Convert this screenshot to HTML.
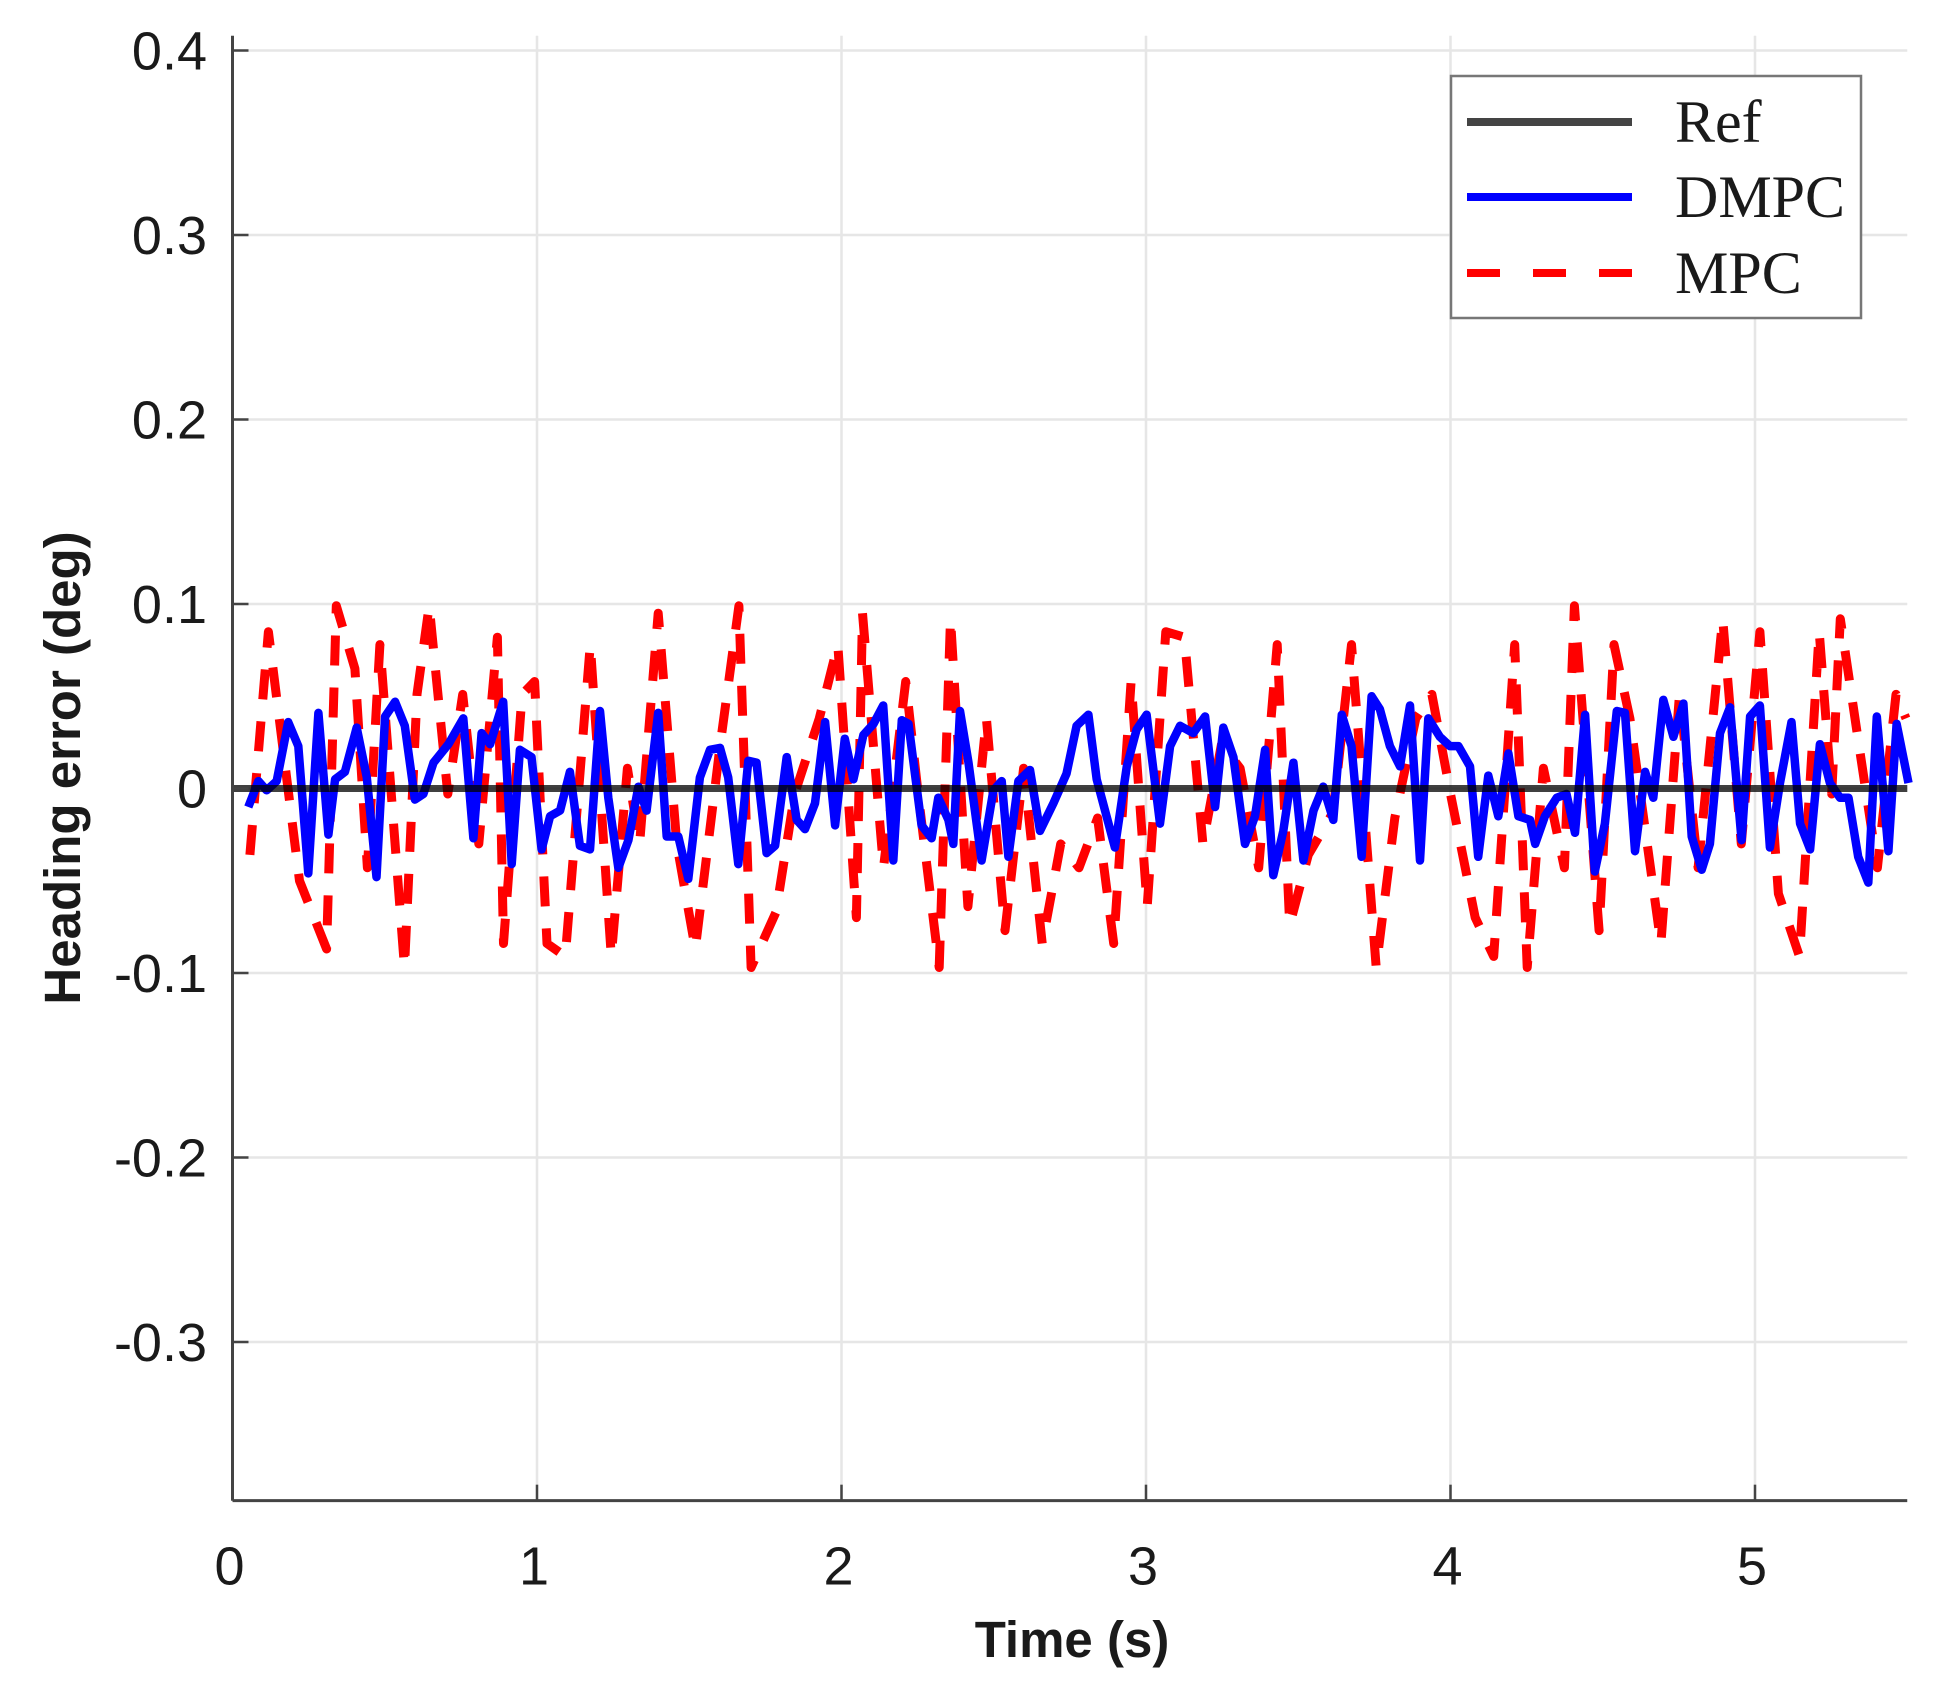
<!DOCTYPE html>
<html><head><meta charset="utf-8">
<style>
html,body{margin:0;padding:0;background:#fff;}
svg{display:block;}
text{font-family:"Liberation Sans",sans-serif;fill:#1a1a1a;}
</style></head>
<body>
<svg id="chart" width="1945" height="1694" viewBox="0 0 1945 1694" xmlns="http://www.w3.org/2000/svg">
<g id="grid"></g>
<g id="series"></g>
<g id="axes"></g>
<text x="1072" y="1657" text-anchor="middle" font-size="51" font-weight="bold">Time (s)</text>
<text transform="translate(80,768) rotate(-90)" text-anchor="middle" font-size="51" font-weight="bold">Heading error (deg)</text>
<g>
  <rect x="1451" y="76" width="410" height="242" fill="#fff" stroke="#777" stroke-width="2.5"/>
  <line x1="1467" y1="122" x2="1632" y2="122" stroke="#444" stroke-width="8"/>
  <text x="1675" y="142" font-size="60" style="font-family:'Liberation Serif',serif">Ref</text>
  <line x1="1467" y1="197" x2="1632" y2="197" stroke="#0000ff" stroke-width="8"/>
  <text x="1675" y="217" font-size="60" style="font-family:'Liberation Serif',serif">DMPC</text>
  <line x1="1467" y1="273" x2="1632" y2="273" stroke="#ff0000" stroke-width="8" stroke-dasharray="33 33"/>
  <text x="1675" y="293" font-size="60" style="font-family:'Liberation Serif',serif">MPC</text>
</g>
</svg>
<script>
const xTicks=[0,1,2,3,4,5];
const yTicks=[0.4,0.3,0.2,0.1,0,-0.1,-0.2,-0.3];
const yTickLabels=["0.4","0.3","0.2","0.1","0","-0.1","-0.2","-0.3"];
const dmpcT=[0.052,0.085,0.112,0.145,0.183,0.216,0.249,0.282,0.315,0.337,0.369,0.408,0.441,0.473,0.501,0.534,0.566,0.599,0.627,0.660,0.709,0.758,0.791,0.818,0.846,0.889,0.917,0.944,0.982,1.015,1.043,1.076,1.108,1.141,1.174,1.207,1.234,1.267,1.300,1.333,1.360,1.398,1.426,1.464,1.497,1.535,1.568,1.601,1.628,1.661,1.694,1.721,1.754,1.782,1.820,1.853,1.880,1.913,1.946,1.979,2.011,2.039,2.072,2.105,2.137,2.170,2.198,2.220,2.263,2.296,2.318,2.351,2.367,2.389,2.417,2.460,2.499,2.526,2.548,2.581,2.619,2.652,2.696,2.739,2.772,2.811,2.838,2.898,2.937,2.969,3.002,3.046,3.079,3.112,3.155,3.194,3.227,3.254,3.287,3.325,3.358,3.391,3.418,3.451,3.484,3.517,3.550,3.582,3.615,3.643,3.675,3.708,3.741,3.768,3.801,3.834,3.867,3.900,3.927,3.965,3.998,4.026,4.064,4.091,4.124,4.157,4.190,4.223,4.261,4.278,4.310,4.349,4.381,4.409,4.442,4.474,4.507,4.546,4.573,4.606,4.639,4.666,4.699,4.732,4.765,4.792,4.825,4.852,4.885,4.918,4.956,4.984,5.016,5.049,5.082,5.120,5.148,5.181,5.213,5.246,5.279,5.307,5.339,5.372,5.400,5.438,5.465,5.504];
const dmpcV=[-0.010,0.004,-0.001,0.004,0.036,0.023,-0.046,0.041,-0.025,0.005,0.009,0.033,0.006,-0.048,0.039,0.047,0.034,-0.006,-0.003,0.014,0.024,0.038,-0.027,0.030,0.024,0.047,-0.041,0.021,0.017,-0.033,-0.015,-0.012,0.009,-0.031,-0.033,0.042,-0.005,-0.043,-0.028,0.001,-0.012,0.041,-0.026,-0.026,-0.049,0.006,0.021,0.022,0.006,-0.041,0.015,0.014,-0.035,-0.031,0.017,-0.017,-0.022,-0.008,0.036,-0.020,0.027,0.005,0.029,0.035,0.045,-0.039,0.037,0.035,-0.020,-0.027,-0.005,-0.017,-0.030,0.042,0.014,-0.039,-0.001,0.004,-0.037,0.004,0.010,-0.023,-0.008,0.008,0.034,0.040,0.005,-0.032,0.012,0.032,0.040,-0.019,0.023,0.034,0.030,0.039,-0.010,0.033,0.017,-0.030,-0.015,0.021,-0.047,-0.023,0.014,-0.039,-0.012,0.001,-0.017,0.040,0.023,-0.037,0.050,0.043,0.023,0.012,0.045,-0.039,0.038,0.028,0.023,0.023,0.012,-0.037,0.007,-0.015,0.019,-0.015,-0.017,-0.030,-0.015,-0.005,-0.003,-0.024,0.040,-0.045,-0.019,0.042,0.041,-0.034,0.009,-0.005,0.048,0.028,0.046,-0.026,-0.044,-0.030,0.030,0.044,-0.028,0.039,0.045,-0.032,0.003,0.036,-0.019,-0.033,0.024,0.003,-0.005,-0.005,-0.037,-0.051,0.039,-0.034,0.035,0.003];
const mpcT=[0.057,0.118,0.220,0.309,0.341,0.402,0.443,0.484,0.565,0.606,0.646,0.707,0.756,0.809,0.870,0.890,0.951,0.992,1.033,1.093,1.175,1.244,1.297,1.337,1.398,1.459,1.520,1.602,1.663,1.703,1.785,1.846,1.927,1.988,2.049,2.069,2.138,2.211,2.252,2.321,2.358,2.415,2.476,2.537,2.598,2.659,2.720,2.780,2.841,2.894,2.951,3.004,3.065,3.126,3.187,3.248,3.309,3.370,3.431,3.472,3.533,3.614,3.675,3.756,3.817,3.886,3.939,4.000,4.081,4.142,4.211,4.252,4.305,4.374,4.407,4.488,4.537,4.589,4.691,4.752,4.813,4.894,4.955,5.016,5.077,5.146,5.211,5.252,5.280,5.341,5.402,5.463,5.496];
const mpcV=[-0.036,0.085,-0.050,-0.087,0.099,0.065,-0.043,0.078,-0.097,0.051,0.099,-0.003,0.051,-0.030,0.082,-0.084,0.051,0.058,-0.084,-0.091,0.078,-0.091,0.011,-0.030,0.095,-0.030,-0.087,0.024,0.099,-0.097,-0.067,-0.003,0.038,0.078,-0.070,0.095,-0.043,0.058,-0.003,-0.097,0.092,-0.064,0.038,-0.077,0.011,-0.084,-0.030,-0.043,-0.016,-0.084,0.058,-0.064,0.085,0.082,-0.030,0.024,0.011,-0.043,0.078,-0.074,-0.036,-0.013,0.078,-0.097,-0.016,0.038,0.051,-0.003,-0.070,-0.091,0.078,-0.097,0.011,-0.043,0.099,-0.077,0.078,0.038,-0.084,0.051,-0.043,0.092,-0.030,0.085,-0.057,-0.091,0.085,-0.003,0.092,0.024,-0.043,0.051,0.038];
const refT=[0,5.5];
const refV=[0,0];

const X0=232.5, XS=304.5, Y0=788.5, YS=1845;
const XMAX=5.5, YMIN=-0.386, YMAX=0.408;
function sx(t){return X0+t*XS;}
function sy(v){return Y0-v*YS;}
const NS="http://www.w3.org/2000/svg";
function mk(tag,attrs,parent){const e=document.createElementNS(NS,tag);for(const k in attrs)e.setAttribute(k,attrs[k]);parent.appendChild(e);return e;}
const grid=document.getElementById('grid'), axes=document.getElementById('axes'), ser=document.getElementById('series');
const L=sx(0), R=sx(XMAX), T=sy(YMAX), B=sy(YMIN);
xTicks.forEach(t=>{
  const g=mk('line',{x1:sx(t),x2:sx(t),y1:T,y2:B,stroke:'#e6e6e6','stroke-width':2.5},grid);
  
  
  const tk=mk('line',{x1:sx(t),x2:sx(t),y1:B,y2:B-16,stroke:'#444','stroke-width':2.5},axes);
  
  
  const lb=mk('text',{x:sx(t)-3,y:B+84,'text-anchor':'middle','font-size':54},axes);
  lb.textContent=String(t);
  
  
});
yTicks.forEach((v,i)=>{
  const g=mk('line',{x1:L,x2:R,y1:sy(v),y2:sy(v),stroke:'#e6e6e6','stroke-width':2.5},grid);
  
  
  const tk=mk('line',{x1:L,x2:L+16,y1:sy(v),y2:sy(v),stroke:'#444','stroke-width':2.5},axes);
  
  
  const lb=mk('text',{x:207,y:sy(v)+19,'text-anchor':'end','font-size':54},axes);
  lb.textContent=yTickLabels[i];
  
  
});
const ya=mk('line',{x1:L,x2:L,y1:T,y2:B,stroke:'#444','stroke-width':3},axes);


const xa=mk('line',{x1:L,x2:R,y1:B,y2:B,stroke:'#444','stroke-width':3},axes);


function pts(T_,V_){return T_.map((t,i)=>sx(t).toFixed(1)+','+sy(V_[i]).toFixed(1)).join(' ');}
const mpc=mk('polyline',{points:pts(mpcT,mpcV),fill:'none',stroke:'#ff0000','stroke-width':9,'stroke-dasharray':'30 22','stroke-linejoin':'round'},ser);


const dm=mk('polyline',{points:pts(dmpcT,dmpcV),fill:'none',stroke:'#0000ff','stroke-width':8.5,'stroke-linejoin':'round'},ser);


const rf=mk('polyline',{points:pts(refT,refV),fill:'none',stroke:'#000','stroke-opacity':0.75,'stroke-width':7},ser);


</script>
</body></html>
